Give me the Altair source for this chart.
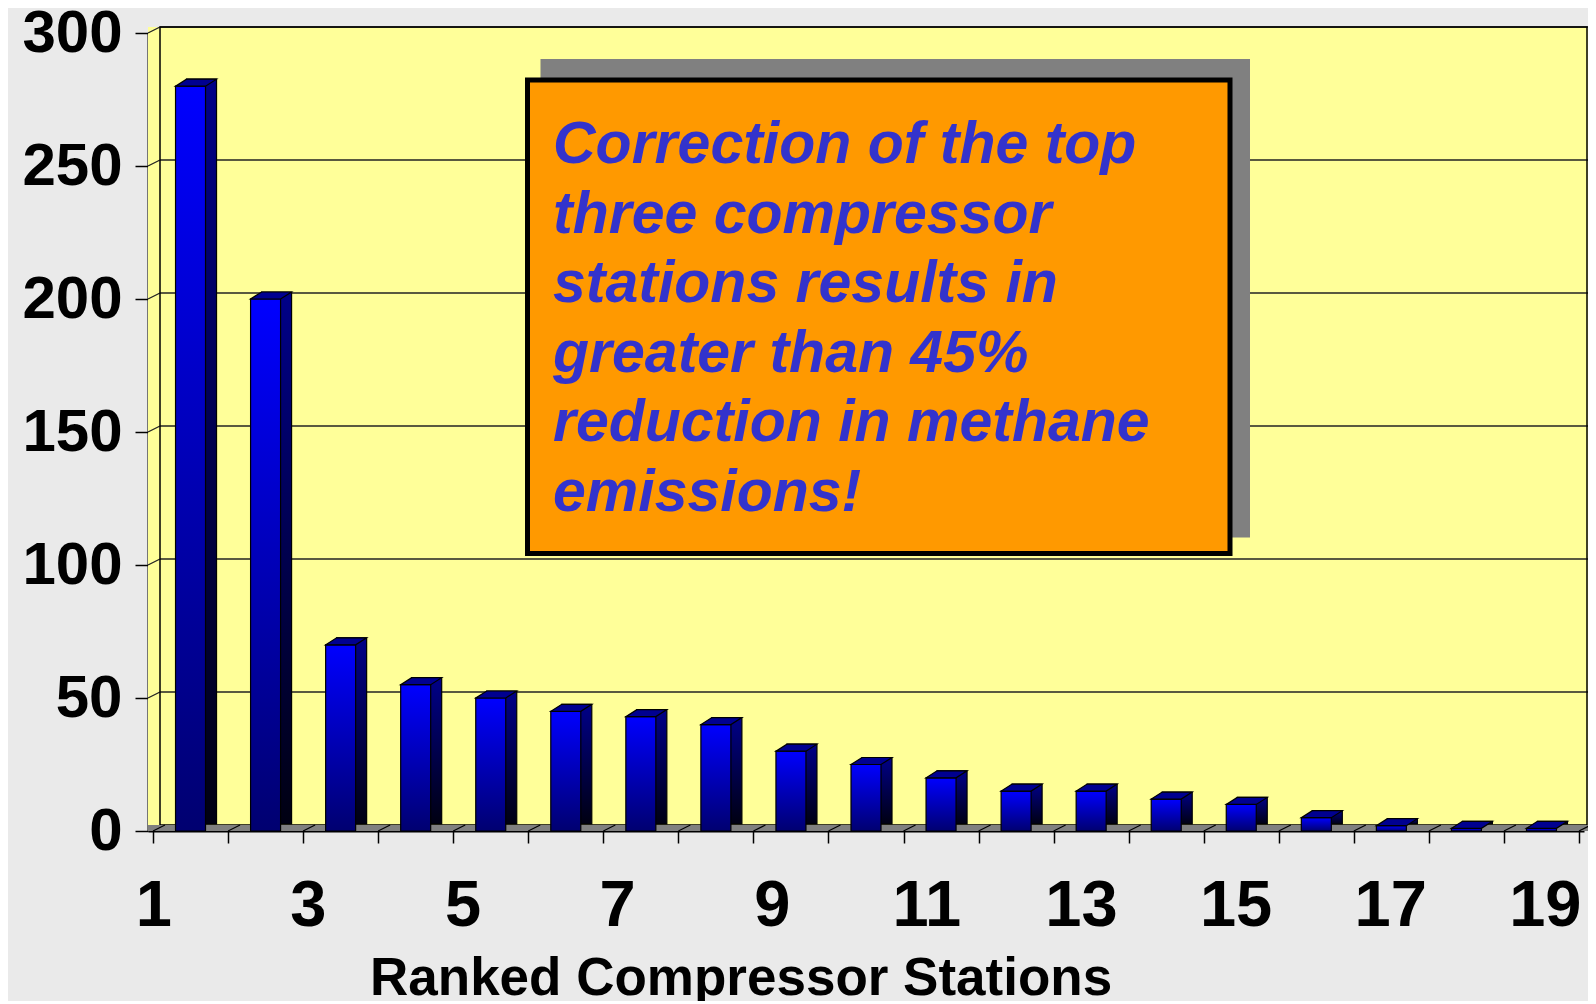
import altair as alt
import pandas as pd

# ---------------- data ----------------
ranks = list(range(1, 20))
emissions = [280, 200, 70, 55, 50, 45, 43, 40, 30, 25, 20, 15, 15, 12, 10, 5, 2, 1, 1]
y_tick_values = [0, 50, 100, 150, 200, 250, 300]
grid_values = [50, 100, 150, 200, 250, 300]
x_label_ranks = [1, 3, 5, 7, 9, 11, 13, 15, 17, 19]
x_title = "Ranked Compressor Stations"
note_lines = [
    "Correction of the top",
    "three compressor",
    "stations results in",
    "greater than 45%",
    "reduction in methane",
    "emissions!",
]

bars = pd.DataFrame({"rank": ranks, "value": emissions})
bounds = pd.DataFrame({"b": [r - 0.5 for r in ranks] + [ranks[-1] + 0.5]})
grid = pd.DataFrame({"g": grid_values})
labels = pd.DataFrame({"rank": x_label_ranks, "label": [str(r) for r in x_label_ranks]})
one = pd.DataFrame({"k": [0]})

# ---------------- layout / style ----------------
W, H = 1436, 798
RP = 4               # right padding (svg must fit the 1580px body)
DX, DY = 11, -7      # bar depth offsets (px)
WX, WY = 12, -6      # wall depth offsets (px)
FONT = "Liberation Sans, Arial, sans-serif"

xs = alt.Scale(domain=[0.5, 19.5], nice=False, zero=False)
ys = alt.Scale(domain=[0, 300], nice=False)
# category labels are spread a little wider than the bars, as in the original
xs_lab = alt.Scale(domain=[0.925, 19.5], nice=False, zero=False)

x_axis = alt.Axis(values=bounds["b"].tolist(), labels=False, tickSize=12,
                  tickColor="black", tickWidth=1.5, domainColor="black",
                  domainWidth=2, grid=False, title=None)
y_axis = alt.Axis(values=y_tick_values, tickSize=13, tickColor="black",
                  tickWidth=1.5, domainColor="black", domainWidth=2,
                  grid=False, title=None, labelFont=FONT, labelFontSize=60,
                  labelFontWeight="bold", labelColor="black", labelPadding=13)

X = alt.X("rank:Q", scale=xs, axis=x_axis)
Y = alt.Y("value:Q", scale=ys, axis=y_axis)

front_grad = alt.Gradient(
    gradient="linear", x1=0, x2=0, y1=0, y2=1,
    stops=[alt.GradientStop(color="#0000FF", offset=0),
           alt.GradientStop(color="#000070", offset=1)])
side_grad = alt.Gradient(
    gradient="linear", x1=0, x2=0, y1=0, y2=1,
    stops=[alt.GradientStop(color="#000088", offset=0),
           alt.GradientStop(color="#000012", offset=1)])

TOP_PATH = "M -1.5 0 L 1.5 0 L 2.6 -0.7 L -0.4 -0.7 Z"

# walls
wall = alt.Chart(one).mark_rect(fill="#FFFF99").encode(
    x=alt.value(0), x2=alt.value(W + RP), y=alt.value(WY), y2=alt.value(H + WY))

grid_back = alt.Chart(grid).mark_rule(color="#222222", strokeWidth=1.3, yOffset=WY).encode(
    x=alt.value(WX), x2=alt.value(W + RP), y=alt.Y("g:Q", scale=ys, axis=y_axis))
grid_side = alt.Chart(grid).mark_rule(color="#222222", strokeWidth=1.3, y2Offset=WY).encode(
    x=alt.value(0), x2=alt.value(WX), y=alt.Y("g:Q", scale=ys, axis=y_axis), y2=alt.Y2("g:Q"))

wall_edge = alt.Chart(one).mark_rect(fillOpacity=0, stroke="black", strokeWidth=1.5).encode(
    x=alt.value(WX), x2=alt.value(W + RP - 1), y=alt.value(WY), y2=alt.value(H + WY))

floor = alt.Chart(one).mark_rect(fill="#808080").encode(
    x=alt.value(0), x2=alt.value(W + RP), y=alt.value(H + WY), y2=alt.value(H))
floor_lines = alt.Chart(bounds).mark_rule(color="black", strokeWidth=1.2,
                                          x2Offset=WX, y2Offset=WY).encode(
    x=alt.X("b:Q", scale=xs, axis=x_axis), x2=alt.X2("b:Q"),
    y=alt.value(H), y2=alt.value(H))

# 3D-ish bars
bar_side = alt.Chart(bars).mark_bar(size=30, xOffset=DX, yOffset=DY, y2Offset=DY,
                                    fill=side_grad, stroke="black", strokeWidth=1.2).encode(x=X, y=Y)
bar_front = alt.Chart(bars).mark_bar(size=30, fill=front_grad, stroke="black",
                                     strokeWidth=1.2).encode(x=X, y=Y)
bar_top = alt.Chart(bars).mark_point(shape=TOP_PATH, size=400, filled=True,
                                     fill="#000090", stroke="black", strokeWidth=1.2,
                                     opacity=1).encode(x=X, y=Y)

# annotation box
shadow = alt.Chart(one).mark_rect(fill="#808080").encode(
    x=alt.value(392.5), x2=alt.value(1102), y=alt.value(26), y2=alt.value(504.5))
box = alt.Chart(one).mark_rect(fill="#FF9900", stroke="black", strokeWidth=5).encode(
    x=alt.value(379.5), x2=alt.value(1082), y=alt.value(47), y2=alt.value(520.5))
note = alt.Chart(one).mark_text(font=FONT, fontSize=59, fontWeight="bold",
                                fontStyle="italic", color="#3333CC", align="left",
                                baseline="alphabetic", lineBreak="\n",
                                lineHeight=69.5).encode(
    x=alt.value(405), y=alt.value(130), text=alt.value("\n".join(note_lines)))

xtitle = alt.Chart(one).mark_text(font=FONT, fontSize=53, fontWeight="bold",
                                  color="black", align="left",
                                  baseline="alphabetic").encode(
    x=alt.value(222), y=alt.value(962), text=alt.value(x_title))

main = alt.layer(
    wall, grid_back, grid_side, wall_edge, floor, floor_lines,
    bar_side, bar_front, bar_top, shadow, box, note, xtitle
)

# x labels (own x scale, no axis)
xlab = alt.Chart(labels).mark_text(font=FONT, fontSize=65, fontWeight="bold",
                                   color="black", align="center",
                                   baseline="alphabetic").encode(
    x=alt.X("rank:Q", scale=xs_lab, axis=None), y=alt.value(893), text="label:N")

chart = alt.layer(main, xlab).resolve_scale(x="independent").properties(
    width=W, height=H,
    padding={"left": 140, "top": 25, "right": RP, "bottom": 170},
    autosize=alt.AutoSizeParams(type="none"),
).configure(background="#EAEAEA").configure_view(stroke=None)

chart.save("out.html", embed_options={"renderer": "svg", "actions": False})
